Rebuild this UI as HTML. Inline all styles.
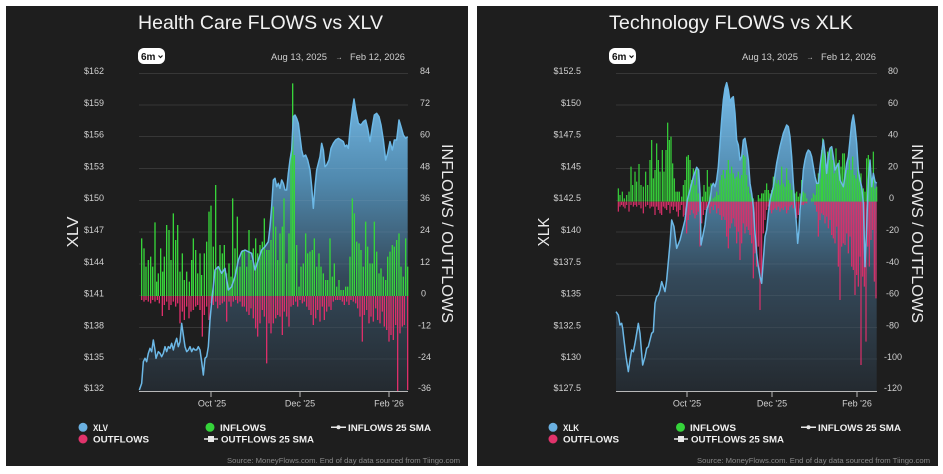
<!DOCTYPE html>
<html><head><meta charset="utf-8"><style>
html,body{margin:0;padding:0;background:#fff;}
svg{display:block;font-family:"Liberation Sans",sans-serif;}
</style></head><body>
<svg width="943" height="474" viewBox="0 0 943 474" xmlns="http://www.w3.org/2000/svg">
<defs>
<linearGradient id="ga" gradientUnits="userSpaceOnUse" x1="0" y1="90" x2="0" y2="993">
<stop offset="0" stop-color="#74b8e4"/><stop offset="0.3" stop-color="#5089ae"/><stop offset="0.62" stop-color="#34495a"/><stop offset="1" stop-color="#242a30"/>
</linearGradient>
</defs>
<rect x="6" y="6" width="462" height="460" fill="#1e1e1e"/>
<rect x="477" y="6" width="461" height="460" fill="#1e1e1e"/>

<!-- ===== LEFT PANEL ===== -->
<text x="260.5" y="29" font-size="19.5" fill="#f2f2f2" text-anchor="middle" textLength="245" lengthAdjust="spacingAndGlyphs">Health Care FLOWS vs XLV</text>
<rect x="138" y="48" width="27" height="16" rx="6" fill="#fff"/>
<text x="141" y="60" font-size="10" font-weight="bold" fill="#111">6m</text>
<path d="M158.5 55.5 L160.5 57.5 L162.5 55.5" stroke="#111" stroke-width="1.2" fill="none"/>
<text x="271" y="60" font-size="9.5" fill="#cfcfcf" textLength="56" lengthAdjust="spacingAndGlyphs">Aug 13, 2025</text>
<text x="339" y="59.5" font-size="7" fill="#cfcfcf" text-anchor="middle">→</text>
<text x="350" y="60" font-size="9.5" fill="#cfcfcf" textLength="55" lengthAdjust="spacingAndGlyphs">Feb 12, 2026</text>

<g stroke="#2b2b2b" stroke-width="1">
<path d="M139 73.5H408M139 105H408M139 136.5H408M139 168.5H408M139 200.5H408M139 232H408M139 264H408M139 295.5H408M139 327.5H408M139 359H408"/>
</g>
<g font-size="9" fill="#d0d0d0" text-anchor="end">
<text x="104" y="74">$162</text><text x="104" y="106">$159</text><text x="104" y="137.5">$156</text><text x="104" y="169.5">$153</text><text x="104" y="201">$150</text><text x="104" y="233">$147</text><text x="104" y="265">$144</text><text x="104" y="296.5">$141</text><text x="104" y="328.5">$138</text><text x="104" y="360">$135</text><text x="104" y="391">$132</text>
</g>
<g font-size="9" fill="#d0d0d0">
<text x="420" y="74">84</text><text x="420" y="106">72</text><text x="420" y="137.5">60</text><text x="420" y="169.5">48</text><text x="420" y="201">36</text><text x="420" y="233">24</text><text x="420" y="265">12</text><text x="421" y="296.5">0</text><text x="418" y="328.5">-12</text><text x="418" y="360">-24</text><text x="418" y="391">-36</text>
</g>
<text transform="translate(78,232) rotate(-90)" font-size="15.5" fill="#eaeaea" text-anchor="middle" textLength="31" lengthAdjust="spacingAndGlyphs">XLV</text>
<text transform="translate(442,233.5) rotate(90)" font-size="15.5" fill="#eaeaea" text-anchor="middle" textLength="179" lengthAdjust="spacingAndGlyphs">INFLOWS / OUTFLOWS</text>

<g transform="translate(130,60) scale(0.333333)">
<path fill="url(#ga)" d="M28 990L35 970L40 905L45 895L50 905L55 880L60 865L65 875L70 840L75 870L78 895L85 875L90 880L95 890L100 880L105 860L110 875L115 860L120 865L125 850L130 870L135 850L140 835L145 860L150 845L155 790L160 825L165 860L170 875L175 870L180 860L185 875L190 865L195 870L200 870L205 860L210 870L215 905L220 945L225 895L230 890L235 860L240 780L245 725L255 630L265 620L275 640L285 625L295 690L305 680L315 650L325 600L335 575L345 570L355 575L365 580L375 630L385 600L395 570L405 560L415 545L420 500L425 440L430 360L435 355L440 380L445 370L450 385L455 360L460 370L465 390L470 390L475 340L480 300L485 270L490 170L495 165L500 175L505 190L510 230L515 270L520 290L527 285L533 300L540 330L545 380L550 445L555 380L560 330L565 310L570 290L575 250L580 270L585 320L590 315L597 300L603 265L610 250L617 240L625 235L633 240L640 245L645 260L650 255L655 265L660 210L667 150L672 117L677 150L685 190L693 195L700 185L707 180L713 205L720 245L727 200L733 165L740 160L747 170L753 195L760 240L767 300L773 280L780 245L787 270L793 240L800 240L807 180L813 200L820 225L827 235L833 230L833 993L28 993Z"/>
<path stroke="rgba(255,255,255,0.06)" stroke-width="3" d="M27 40.5H834M27 135H834M27 229.5H834M27 325.5H834M27 421.5H834M27 516H834M27 612H834M27 802.5H834M27 897H834"/>
<path stroke="#37d43a" stroke-width="4" d="M35 708V535M42 708V565M48 708V620M55 708V600M62 708V590M68 708V620M75 708V487M80 708V665M85 708V640M92 708V565M98 708V635M103 708V590M110 708V495M117 708V510M123 708V600M130 708V460M137 708V540M143 708V495M150 708V635M157 708V580M163 708V660M170 708V635M178 708V665M185 708V600M190 708V535M197 708V570M203 708V640M210 708V580M215 708V645M223 708V580M230 708V545M237 708V455M243 708V437M250 708V560M257 708V375M263 708V620M270 708V555M277 708V580M283 708V555M290 708V640M297 708V610M303 708V650M308 708V415M315 708V565M322 708V470M330 708V620M337 708V570M343 708V570M350 708V620M357 708V510M363 708V600M370 708V565M377 708V535M383 708V580M390 708V555M397 708V545M403 708V475M410 708V570M417 708V570M423 708V540M430 708V440M437 708V500M443 708V600M450 708V520M457 708V500M462 708V415M470 708V610M477 708V520M483 708V280M488 708V70M493 708V285M500 708V555M507 708V680M513 708V620M520 708V610M527 708V520M533 708V580M540 708V575M547 708V570M553 708V535M560 708V620M567 708V580M573 708V620M580 708V640M587 708V660M593 708V660M600 708V535M607 708V650M613 708V610M620 708V680M627 708V660M633 708V690M640 708V690M647 708V680M653 708V680M660 708V590M667 708V415M673 708V460M680 708V545M687 708V550M693 708V570M700 708V620M707 708V485M713 708V560M720 708V610M727 708V610M733 708V485M740 708V575M747 708V640M753 708V625M760 708V650M767 708V660M773 708V590M780 708V575M787 708V555M793 708V560M800 708V540M807 708V520M813 708V620M820 708V650M827 708V535M833 708V620"/>
<path stroke="#dc2f6a" stroke-width="4" d="M35 708V720M42 708V725M48 708V720M55 708V725M62 708V730M68 708V720M75 708V725M82 708V720M88 708V730M97 708V768M103 708V735M110 708V725M117 708V750M123 708V735M130 708V725M137 708V740M143 708V730M150 708V790M157 708V755M163 708V780M170 708V740M177 708V775M183 708V755M190 708V750M197 708V740M203 708V735M210 708V750M217 708V830M223 708V765M230 708V740M237 708V780M243 708V730M250 708V735M257 708V725M263 708V745M270 708V735M277 708V730M283 708V725M290 708V785M297 708V725M303 708V740M310 708V725M317 708V720M323 708V730M330 708V725M337 708V740M343 708V740M350 708V755M357 708V765M363 708V745M370 708V775M377 708V805M383 708V830M390 708V790M397 708V750M403 708V770M410 708V910M417 708V790M423 708V820M430 708V790M437 708V775M443 708V765M450 708V770M457 708V825M463 708V755M470 708V770M477 708V800M483 708V740M490 708V735M497 708V725M503 708V740M510 708V720M517 708V730M523 708V725M530 708V740M537 708V750M543 708V765M550 708V795M557 708V775M563 708V750M570 708V785M577 708V740M583 708V780M590 708V755M597 708V740M603 708V750M610 708V725M617 708V720M623 708V720M630 708V720M637 708V725M643 708V735M650 708V725M657 708V735M663 708V720M670 708V725M677 708V730M683 708V745M690 708V770M697 708V845M703 708V765M710 708V750M717 708V790M723 708V770M730 708V785M737 708V745M743 708V780M750 708V790M757 708V755M763 708V800M770 708V810M777 708V845M783 708V825M790 708V840M797 708V795M803 708V995M810 708V820M817 708V800M823 708V795M833 708V990"/>
<path fill="none" stroke="#6cb8e6" stroke-width="4.5" stroke-linejoin="round" d="M28 990L35 970L40 905L45 895L50 905L55 880L60 865L65 875L70 840L75 870L78 895L85 875L90 880L95 890L100 880L105 860L110 875L115 860L120 865L125 850L130 870L135 850L140 835L145 860L150 845L155 790L160 825L165 860L170 875L175 870L180 860L185 875L190 865L195 870L200 870L205 860L210 870L215 905L220 945L225 895L230 890L235 860L240 780L245 725L255 630L265 620L275 640L285 625L295 690L305 680L315 650L325 600L335 575L345 570L355 575L365 580L375 630L385 600L395 570L405 560L415 545L420 500L425 440L430 360L435 355L440 380L445 370L450 385L455 360L460 370L465 390L470 390L475 340L480 300L485 270L490 170L495 165L500 175L505 190L510 230L515 270L520 290L527 285L533 300L540 330L545 380L550 445L555 380L560 330L565 310L570 290L575 250L580 270L585 320L590 315L597 300L603 265L610 250L617 240L625 235L633 240L640 245L645 260L650 255L655 265L660 210L667 150L672 117L677 150L685 190L693 195L700 185L707 180L713 205L720 245L727 200L733 165L740 160L747 170L753 195L760 240L767 300L773 280L780 245L787 270L793 240L800 240L807 180L813 200L820 225L827 235L833 230"/>
</g>
<path d="M139 391.5H408M211 391V397M300 391V397M389 391V397" stroke="#b8b8b8" stroke-width="1"/>
<g font-size="9" fill="#cfcfcf" text-anchor="middle">
<text x="212" y="406.5">Oct '25</text><text x="300" y="406.5">Dec '25</text><text x="389" y="406.5">Feb '26</text>
</g>
<!-- legend left -->
<circle cx="83" cy="427.3" r="4.5" fill="#6ab0e0"/>
<circle cx="83" cy="439" r="4.5" fill="#e0336b"/>
<circle cx="210" cy="427.3" r="4.5" fill="#35d43a"/>
<path d="M331 427.3H346M204 439H218" stroke="#e8e8e8" stroke-width="1.5"/>
<circle cx="338.5" cy="427.3" r="2" fill="#e8e8e8"/>
<rect x="208" y="436" width="6" height="6" fill="#e8e8e8"/>
<g font-size="9.5" font-weight="bold" fill="#f0f0f0">
<text x="93" y="430.8" textLength="15" lengthAdjust="spacingAndGlyphs">XLV</text>
<text x="93" y="442.6" textLength="56" lengthAdjust="spacingAndGlyphs">OUTFLOWS</text>
<text x="220" y="430.8" textLength="46" lengthAdjust="spacingAndGlyphs">INFLOWS</text>
<text x="221" y="442.6" textLength="93" lengthAdjust="spacingAndGlyphs">OUTFLOWS 25 SMA</text>
<text x="348" y="430.8" textLength="83" lengthAdjust="spacingAndGlyphs">INFLOWS 25 SMA</text>
</g>
<text x="460" y="463" font-size="7.5" fill="#8a8a8a" text-anchor="end" textLength="233" lengthAdjust="spacingAndGlyphs">Source: MoneyFlows.com. End of day data sourced from Tiingo.com</text>

<!-- ===== RIGHT PANEL ===== -->
<text x="731" y="29" font-size="19.5" fill="#f2f2f2" text-anchor="middle" textLength="244" lengthAdjust="spacingAndGlyphs">Technology FLOWS vs XLK</text>
<rect x="609" y="48" width="27" height="16" rx="6" fill="#fff"/>
<text x="612" y="60" font-size="10" font-weight="bold" fill="#111">6m</text>
<path d="M629.5 55.5 L631.5 57.5 L633.5 55.5" stroke="#111" stroke-width="1.2" fill="none"/>
<text x="742" y="60" font-size="9.5" fill="#cfcfcf" textLength="56" lengthAdjust="spacingAndGlyphs">Aug 13, 2025</text>
<text x="810" y="59.5" font-size="7" fill="#cfcfcf" text-anchor="middle">→</text>
<text x="821" y="60" font-size="9.5" fill="#cfcfcf" textLength="55" lengthAdjust="spacingAndGlyphs">Feb 12, 2026</text>

<g stroke="#2b2b2b" stroke-width="1">
<path d="M616 73.5H877M616 105H877M616 136.5H877M616 168.5H877M616 200.5H877M616 232H877M616 264H877M616 295.5H877M616 327.5H877M616 359H877"/>
</g>
<g font-size="9" fill="#d0d0d0" text-anchor="end">
<text x="581" y="74">$152.5</text><text x="581" y="106">$150</text><text x="581" y="137.5">$147.5</text><text x="581" y="169.5">$145</text><text x="581" y="201">$142.5</text><text x="581" y="233">$140</text><text x="581" y="265">$137.5</text><text x="581" y="296.5">$135</text><text x="581" y="328.5">$132.5</text><text x="581" y="360">$130</text><text x="581" y="391">$127.5</text>
</g>
<g font-size="9" fill="#d0d0d0">
<text x="888" y="74">80</text><text x="888" y="106">60</text><text x="888" y="137.5">40</text><text x="888" y="169.5">20</text><text x="889" y="201">0</text><text x="886" y="233">-20</text><text x="886" y="265">-40</text><text x="886" y="296.5">-60</text><text x="886" y="328.5">-80</text><text x="884" y="360">-100</text><text x="884" y="391">-120</text>
</g>
<text transform="translate(549,232) rotate(-90)" font-size="15.5" fill="#eaeaea" text-anchor="middle" textLength="29" lengthAdjust="spacingAndGlyphs">XLK</text>
<text transform="translate(912,233.5) rotate(90)" font-size="15.5" fill="#eaeaea" text-anchor="middle" textLength="179" lengthAdjust="spacingAndGlyphs">INFLOWS / OUTFLOWS</text>

<g transform="translate(600,60) scale(0.333333)">
<path fill="url(#ga)" d="M48 755L55 765L60 795L65 790L68 805L72 840L78 890L85 935L90 900L95 870L100 875L105 850L110 820L115 790L120 820L125 880L128 915L135 890L140 865L145 860L150 840L155 820L160 815L165 730L170 710L175 705L180 690L185 665L190 680L195 695L200 660L205 605L210 550L215 480L222 500L230 565L240 540L255 480L262 420L270 390L280 350L290 322L296 330L300 400L303 555L310 520L315 495L320 450L325 435L330 420L335 380L340 370L345 380L350 360L355 320L360 250L365 180L370 120L375 85L380 68L385 90L390 125L395 115L400 110L405 160L410 240L415 255L420 300L425 290L430 240L435 235L440 265L445 300L450 370L455 400L460 440L465 520L470 580L475 620L480 650L485 670L490 600L495 530L500 510L505 460L510 420L515 400L520 380L525 345L530 310L540 260L550 220L560 195L565 200L570 230L575 290L580 370L585 440L590 500L593 550L597 510L600 450L605 400L610 330L615 300L620 280L625 270L630 275L635 290L640 320L645 350L650 370L655 370L660 320L665 280L670 240L675 280L680 340L685 290L690 265L695 260L700 290L705 330L710 320L715 310L720 360L725 370L730 380L735 350L740 310L745 290L750 240L755 190L760 165L765 200L770 250L775 330L780 360L785 380L790 430L795 620L800 500L805 360L810 300L815 380L820 340L825 365L830 370L830 993L48 993Z"/>
<path stroke="rgba(255,255,255,0.06)" stroke-width="3" d="M48 40.5H831M48 135H831M48 229.5H831M48 325.5H831M48 516H831M48 612H831M48 706.5H831M48 802.5H831M48 897H831"/>
<path stroke="#37d43a" stroke-width="3.6" d="M55 425V385M60 425V405M67 425V395M73 425V415M80 425V405M87 425V395M93 425V320M98 425V375M105 425V335M110 425V365M117 425V312M123 425V375M130 425V380M137 425V335M143 425V375M150 425V300M155 425V240M160 425V355M165 425V330M170 425V250M175 425V300M180 425V335M187 425V270M192 425V335M198 425V270M203 425V188M208 425V240M213 425V230M218 425V310M223 425V355M228 425V395M233 425V395M238 425V395M245 425V410M250 425V375M255 425V360M260 425V290M265 425V285M270 425V300M275 425V360M280 425V325M285 425V375M290 425V325M295 425V400M300 425V410M307 425V410M312 425V375M317 425V395M322 425V330M327 425V380M333 425V370M340 425V415M345 425V410M350 425V395M355 425V405M360 425V360M365 425V345M370 425V330M375 425V355M380 425V330M385 425V300M390 425V340M395 425V320M400 425V340M405 425V355M410 425V350M415 425V335M420 425V355M425 425V345M430 425V285M435 425V290M440 425V345M445 425V380M450 425V400M455 425V410M460 425V415M475 425V405M480 425V415M485 425V400M490 425V400M495 425V390M500 425V370M505 425V390M510 425V400M515 425V390M520 425V350M525 425V340M530 425V370M535 425V360M540 425V375M545 425V320M550 425V370M555 425V380M560 425V325M565 425V360M570 425V370M575 425V390M580 425V375M585 425V400M590 425V395M595 425V410M600 425V400M605 425V360M610 425V395M615 425V400M620 425V415M635 425V415M640 425V400M645 425V405M650 425V370M655 425V340M660 425V355M665 425V270M668 425V235M673 425V280M678 425V310M683 425V275M688 425V300M693 425V265M698 425V300M703 425V340M708 425V265M713 425V310M718 425V300M723 425V320M728 425V280M733 425V280M738 425V340M743 425V330M748 425V300M753 425V330M758 425V290M763 425V345M768 425V355M773 425V320M778 425V345M783 425V340M790 425V385M795 425V395M800 425V295M805 425V285M810 425V320M815 425V355M820 425V275M825 425V385M830 425V380"/>
<path stroke="#dc2f6a" stroke-width="3.6" d="M55 425V455M60 425V440M65 425V435M70 425V440M75 425V445M80 425V435M87 425V455M93 425V435M100 425V440M105 425V435M110 425V440M117 425V435M123 425V445M130 425V460M137 425V440M143 425V435M150 425V445M155 425V440M160 425V440M165 425V465M170 425V440M175 425V450M180 425V460M185 425V465M190 425V440M195 425V445M200 425V450M205 425V435M210 425V460M215 425V440M220 425V450M225 425V440M230 425V455M235 425V470M240 425V450M245 425V435M250 425V470M255 425V465M260 425V520M265 425V480M270 425V465M275 425V450M280 425V460M285 425V475M290 425V465M295 425V455M300 425V560M305 425V490M310 425V465M315 425V450M320 425V445M325 425V440M330 425V460M335 425V440M340 425V450M345 425V435M350 425V460M355 425V445M360 425V465M365 425V480M370 425V470M375 425V480M380 425V530M385 425V565M390 425V505M395 425V490M400 425V475M405 425V500M410 425V550M415 425V515M420 425V600M425 425V550M430 425V490M435 425V520M440 425V500M445 425V510M450 425V525M455 425V550M460 425V655M465 425V580M470 425V620M475 425V560M480 425V750M485 425V660M490 425V520M495 425V480M500 425V450M505 425V440M510 425V450M515 425V460M520 425V450M525 425V445M530 425V450M535 425V440M540 425V455M545 425V445M550 425V450M555 425V440M560 425V460M565 425V450M570 425V440M575 425V435M580 425V445M585 425V440M590 425V475M595 425V465M600 425V440M605 425V435M610 425V435M615 425V430M620 425V430M645 425V435M650 425V455M655 425V530M660 425V480M665 425V460M670 425V465M675 425V490M680 425V470M685 425V505M690 425V480M695 425V525M700 425V535M705 425V550M710 425V500M715 425V620M720 425V720M725 425V560M730 425V550M735 425V555M740 425V520M745 425V580M750 425V530M755 425V620M760 425V630M765 425V705M770 425V645M775 425V680M780 425V590M783 425V915M788 425V650M793 425V680M798 425V845M803 425V560M808 425V620M813 425V540M818 425V510M823 425V665M828 425V715"/>
<path fill="none" stroke="#6cb8e6" stroke-width="4.5" stroke-linejoin="round" d="M48 755L55 765L60 795L65 790L68 805L72 840L78 890L85 935L90 900L95 870L100 875L105 850L110 820L115 790L120 820L125 880L128 915L135 890L140 865L145 860L150 840L155 820L160 815L165 730L170 710L175 705L180 690L185 665L190 680L195 695L200 660L205 605L210 550L215 480L222 500L230 565L240 540L255 480L262 420L270 390L280 350L290 322L296 330L300 400L303 555L310 520L315 495L320 450L325 435L330 420L335 380L340 370L345 380L350 360L355 320L360 250L365 180L370 120L375 85L380 68L385 90L390 125L395 115L400 110L405 160L410 240L415 255L420 300L425 290L430 240L435 235L440 265L445 300L450 370L455 400L460 440L465 520L470 580L475 620L480 650L485 670L490 600L495 530L500 510L505 460L510 420L515 400L520 380L525 345L530 310L540 260L550 220L560 195L565 200L570 230L575 290L580 370L585 440L590 500L593 550L597 510L600 450L605 400L610 330L615 300L620 280L625 270L630 275L635 290L640 320L645 350L650 370L655 370L660 320L665 280L670 240L675 280L680 340L685 290L690 265L695 260L700 290L705 330L710 320L715 310L720 360L725 370L730 380L735 350L740 310L745 290L750 240L755 190L760 165L765 200L770 250L775 330L780 360L785 380L790 430L795 620L800 500L805 360L810 300L815 380L820 340L825 365L830 370"/>
</g>
<path d="M616 391.5H877M687 391V397M772 391V397M857 391V397" stroke="#b8b8b8" stroke-width="1"/>
<g font-size="9" fill="#cfcfcf" text-anchor="middle">
<text x="687" y="406.5">Oct '25</text><text x="772" y="406.5">Dec '25</text><text x="857" y="406.5">Feb '26</text>
</g>
<!-- legend right -->
<circle cx="553" cy="427.3" r="4.5" fill="#6ab0e0"/>
<circle cx="553" cy="439" r="4.5" fill="#e0336b"/>
<circle cx="680.5" cy="427.3" r="4.5" fill="#35d43a"/>
<path d="M801 427.3H816M674 439H688" stroke="#e8e8e8" stroke-width="1.5"/>
<circle cx="808.5" cy="427.3" r="2" fill="#e8e8e8"/>
<rect x="678" y="436" width="6" height="6" fill="#e8e8e8"/>
<g font-size="9.5" font-weight="bold" fill="#f0f0f0">
<text x="563" y="430.8" textLength="16" lengthAdjust="spacingAndGlyphs">XLK</text>
<text x="563" y="442.6" textLength="56" lengthAdjust="spacingAndGlyphs">OUTFLOWS</text>
<text x="690" y="430.8" textLength="46" lengthAdjust="spacingAndGlyphs">INFLOWS</text>
<text x="691" y="442.6" textLength="93" lengthAdjust="spacingAndGlyphs">OUTFLOWS 25 SMA</text>
<text x="818" y="430.8" textLength="83" lengthAdjust="spacingAndGlyphs">INFLOWS 25 SMA</text>
</g>
<text x="930" y="463" font-size="7.5" fill="#8a8a8a" text-anchor="end" textLength="233" lengthAdjust="spacingAndGlyphs">Source: MoneyFlows.com. End of day data sourced from Tiingo.com</text>
</svg>
</body></html>
